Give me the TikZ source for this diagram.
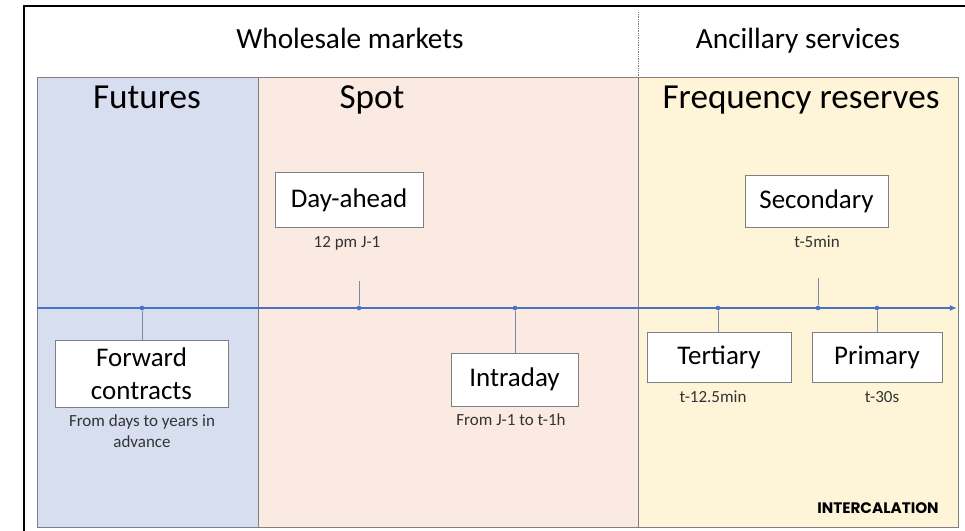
\documentclass[tikz,border=0pt]{standalone}
\usepackage{fontspec}
\setmainfont{Carlito}
\newfontfamily\logofont{Poppins}
\usetikzlibrary{arrows.meta,positioning}
\definecolor{futblue}{RGB}{214,222,240}
\definecolor{spotpink}{RGB}{251,234,225}
\definecolor{freqyellow}{RGB}{254,245,217}
\definecolor{edgegray}{RGB}{127,127,127}
\definecolor{lineblue}{RGB}{74,114,196}
\definecolor{tickgray}{RGB}{122,138,168}

\begin{document}
\begin{tikzpicture}[x=0.03cm,y=-0.03cm,
  panel/.style={draw=edgegray,line width=0.8pt},
  title/.style={anchor=base,font=\fontsize{30}{34}\selectfont},
  head/.style={anchor=base,font=\fontsize{25}{29}\selectfont},
  box/.style={draw=edgegray,fill=white,line width=0.8pt,align=center,inner sep=0pt,font=\fontsize{23}{28}\selectfont},
  note/.style={align=center,font=\fontsize{14.5}{18}\selectfont,text=black!80},
  dot/.style={circle,fill=lineblue,inner sep=0pt,minimum size=4pt},
  link/.style={draw=tickgray,line width=0.8pt}]
  \useasboundingbox (0,0) rectangle (965,530);
  \clip (0,0) rectangle (965,530);
  \draw[line width=1.4pt] (24,560) -- (24,6) -- (990,6);
  % panels
  \fill[futblue] (37,77) rectangle (258,527);
  \fill[spotpink] (258,77) rectangle (638,527);
  \fill[freqyellow] (638,77) rectangle (958,527);
  \draw[panel] (37,77) rectangle (958,527);
  \draw[panel] (258,77) -- (258,527);
  \draw[panel] (638,77) -- (638,527);
  \draw[edgegray,densely dotted,line width=0.5pt] (638,12) -- (638,77);
  \node[head] (wholesale) at (350,48) {Wholesale markets};
  \node[head] (ancillary) at (798,48) {Ancillary services};
  \node[title] (futures) at (147,108) {Futures};
  \node[title] (spot) at (372,108) {Spot};
  \node[title] (freq) at (801,108) {Frequency reserves};
  % timeline
  \coordinate (t0) at (37,308);
  \coordinate (t1) at (957,308);
  \draw[lineblue,line width=1.2pt,-{Latex[length=6pt,width=5pt]}] (t0) -- (t1);
  % boxes
  \node[box,minimum width=5.19cm,minimum height=2.01cm] (forward) at (141.5,373.5) {Forward\\contracts};
  \node[box,minimum width=4.44cm,minimum height=1.65cm] (dayahead) at (349,200) {Day-ahead};
  \node[box,minimum width=3.81cm,minimum height=1.59cm] (intraday) at (514.5,379.5) {Intraday};
  \node[box,minimum width=4.29cm,minimum height=1.56cm] (secondary) at (816.5,201) {Secondary};
  \node[box,minimum width=4.32cm,minimum height=1.5cm] (tertiary) at (719,357) {Tertiary};
  \node[box,minimum width=3.9cm,minimum height=1.5cm] (primary) at (877,357) {Primary};
  % notes
  \node[note] (forwardnote) at (142,431) {From days to years in\\advance};
  \node[note] (dayaheadnote) at (347,243) {12 pm J-1};
  \node[note] (intradaynote) at (511,420) {From J-1 to t-1h};
  \node[note] (secondarynote) at (817,242) {t-5min};
  \node[note] (tertiarynote) at (713,397) {t-12.5min};
  \node[note] (primarynote) at (882,397) {t-30s};
  % ticks on the timeline
  \coordinate (dayaheadtop) at (359,281);
  \coordinate (secondarytop) at (818,278);
  \node[dot] (dforward) at (142,308) {};
  \node[dot] (ddayahead) at (359,308) {};
  \node[dot] (dintraday) at (515,308) {};
  \node[dot] (dtertiary) at (718,308) {};
  \node[dot] (dsecondary) at (818,308) {};
  \node[dot] (dprimary) at (877,308) {};
  \draw[link] (dforward) -- (forward.north -| dforward);
  \draw[link] (dayaheadtop) -- (ddayahead);
  \draw[link] (dintraday) -- (intraday.north -| dintraday);
  \draw[link] (secondarytop) -- (dsecondary);
  \draw[link] (dtertiary) -- (tertiary.north -| dtertiary);
  \draw[link] (dprimary) -- (primary.north -| dprimary);
  \node[font=\logofont\bfseries\fontsize{13}{15}\selectfont] (logo) at (878,508) {INTERCALATION};
\end{tikzpicture}
\end{document}
